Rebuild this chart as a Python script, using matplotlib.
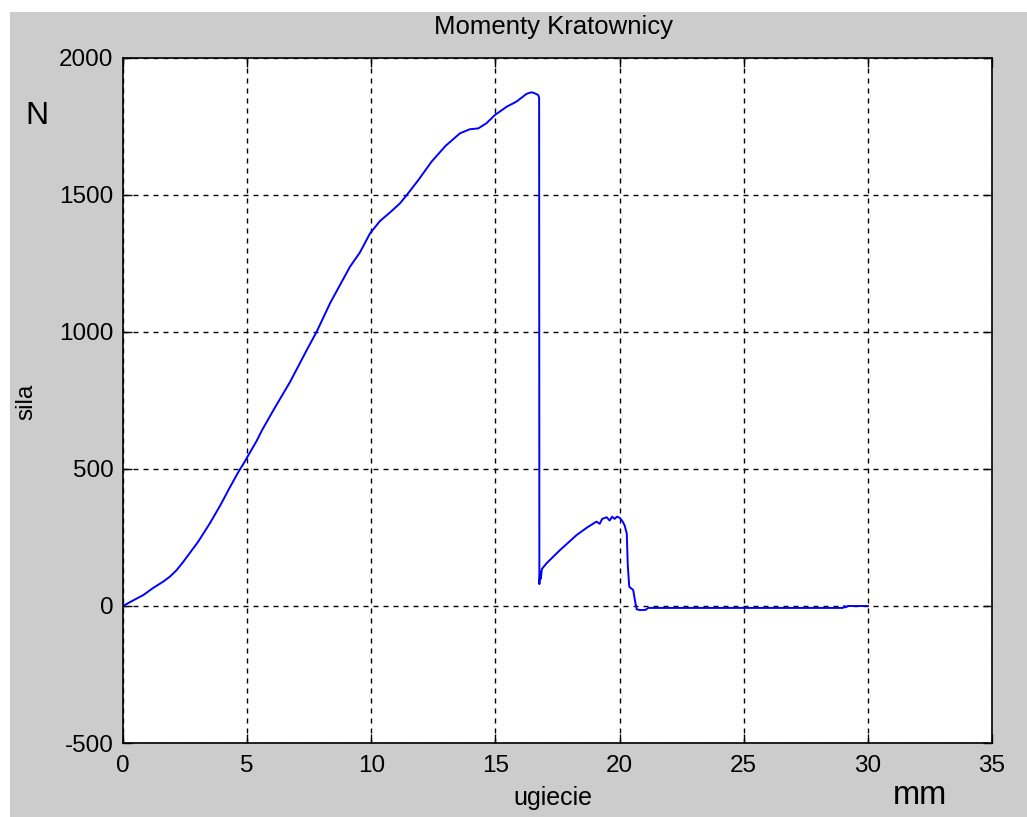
import matplotlib.pyplot as plt
from matplotlib.patches import Rectangle

# deflection [mm] and force [N]
ugiecie = [0, 0.4, 0.82, 1.2, 1.62, 1.9, 2.16, 2.4, 2.63, 3.03, 3.5, 3.91,
           4.31, 4.64, 4.91, 5.11, 5.38, 5.59, 6.06, 6.73, 7.40, 7.80, 8.34,
           9.14, 9.54, 9.95, 10.35, 10.8, 11.16, 11.43, 11.9, 12.43, 13.0,
           13.57, 13.97, 14.31, 14.64, 14.98, 15.45, 15.85, 16.25, 16.45,
           16.59, 16.72, 16.76, 16.77, 16.80, 16.83, 16.87, 17.06, 17.6,
           18.27, 18.7, 19.07, 19.2, 19.3, 19.48, 19.6, 19.7, 19.8, 19.9,
           20.0, 20.1, 20.2, 20.29, 20.33, 20.39, 20.5, 20.55, 20.62, 20.69,
           20.82, 21.05, 21.15, 25.0, 29.0, 29.05, 29.1, 29.2, 30.0]
sila = [0, 20, 40, 65, 89, 108, 131, 158, 186, 235, 302, 366,
        434, 488, 528, 560, 602, 640, 715, 818, 934, 1001, 1105,
        1238, 1290, 1360, 1405, 1440, 1470, 1500, 1555, 1622, 1680,
        1725, 1740, 1743, 1762, 1792, 1822, 1841, 1869, 1875,
        1871, 1865, 1855, 80, 125, 100, 135, 156, 204,
        259, 287, 308, 300, 318, 324, 312, 326, 318, 326,
        322, 312, 295, 265, 150, 70, 62, 58, 20, -12,
        -15, -14, -7, -7, -7, 0, -5, 0, 0]

x_ticks = [0, 5, 10, 15, 20, 25, 30, 35]
y_ticks = [-500, 0, 500, 1000, 1500, 2000]

W, H = 1027, 817
plt.rcParams["font.family"] = "Liberation Sans"
plt.rcParams["axes.unicode_minus"] = False

fig = plt.figure(figsize=(W / 100, H / 100), dpi=100, facecolor="white")
fig.patches.append(Rectangle((10 / W, 0), 1 - 10 / W, 1 - 12 / H,
                             transform=fig.transFigure, facecolor="#cccccc",
                             edgecolor="none", zorder=-10))

ax = fig.add_axes([123 / W, 1 - 743 / H, (992 - 123) / W, (743 - 58) / H])
ax.plot(ugiecie, sila, color="#0000ff", lw=1.4)

ax.set_xlim(0, 35)
ax.set_ylim(-500, 2000)
ax.set_xticks(x_ticks)
ax.set_yticks(y_ticks)
ax.tick_params(direction="in", length=6.5, width=1, labelsize=17.5,
               top=True, right=True, colors="black")
ax.tick_params(axis="x", pad=9)
ax.tick_params(axis="y", pad=7)
ax.grid(True, color="black", lw=1.0, linestyle=(0, (3.6, 3.6)))
for s in ax.spines.values():
    s.set_linewidth(1.2)

fig.text(554 / W, 1 - 27 / H, "Momenty Kratownicy", ha="center", va="center",
         fontsize=18.5)
fig.text(26 / W, 1 - 402 / H, "sila", ha="center", va="center",
         rotation=90, fontsize=17.5)
fig.text(553 / W, 1 - 798 / H, "ugiecie", ha="center", va="center",
         fontsize=18)
fig.text(37 / W, 1 - 116 / H, "N", ha="center", va="center", fontsize=23)
fig.text(920 / W, 1 - 795 / H, "mm", ha="center", va="center", fontsize=23.5)

fig.savefig("out.png", dpi=100)
